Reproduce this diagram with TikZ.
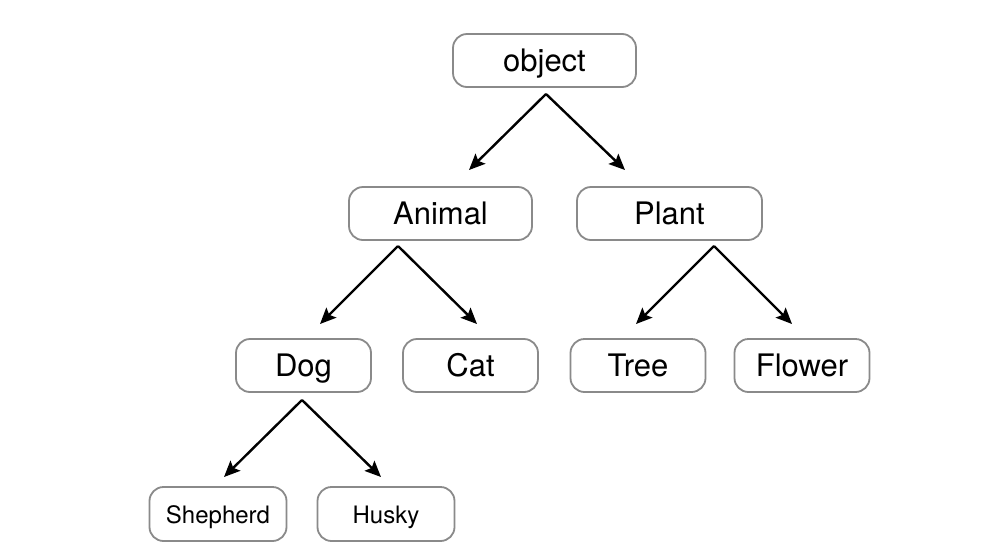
\documentclass[tikz,border=0pt]{standalone}
\usepackage{fontspec}
\setmainfont{TeX Gyre Heros}
\usetikzlibrary{arrows.meta}
\definecolor{boxgray}{HTML}{8A8A8A}
\tikzset{
  box/.style={draw=boxgray, line width=1.8pt, rounded corners=14pt, fill=white,
    minimum height=53pt, inner sep=0pt, text height=22pt, text depth=0pt,
    font=\fontsize{31}{37}\selectfont},
  bigbox/.style={box, minimum width=183pt},
  midbox/.style={box, minimum width=135pt},
  smallbox/.style={box, minimum width=137pt, minimum height=54pt, text height=19pt,
    font=\fontsize{24}{29}\selectfont},
  link/.style={line width=2.4pt, -{Stealth[length=16pt,width=14pt,inset=3pt]}}
}
\begin{document}
\begin{tikzpicture}[x=1pt,y=-1pt]
\useasboundingbox (0,0) rectangle (1001,555);
\fill[white] (0,0) rectangle (1001,555);
% nodes
\node[bigbox] (object) at (544.5,60.5) {object};
\node[bigbox] (animal) at (440.5,213.5) {Animal};
\node[bigbox, minimum width=185pt] (plant) at (669.5,213.5) {Plant};
\node[midbox] (dog) at (303.5,365.5) {Dog};
\node[midbox] (cat) at (470.5,365.5) {Cat};
\node[midbox] (tree) at (638,365.5) {Tree};
\node[midbox] (flower) at (802,365.5) {Flower};
\node[smallbox] (shepherd) at (218,514) {Shepherd};
\node[smallbox] (husky) at (386,514) {Husky};
% connector end points
\coordinate (o0) at (546,94);
\coordinate (oa) at (469,170);
\coordinate (op) at (625,170);
\coordinate (a0) at (398,246);
\coordinate (ad) at (320,324);
\coordinate (ac) at (477,324);
\coordinate (p0) at (714,246);
\coordinate (pt) at (636,324);
\coordinate (pf) at (792,324);
\coordinate (d0) at (302,400);
\coordinate (ds) at (224,477);
\coordinate (dh) at (381,477);
% connectors
\draw[link] (o0) -- (oa);
\draw[link] (o0) -- (op);
\draw[link] (a0) -- (ad);
\draw[link] (a0) -- (ac);
\draw[link] (p0) -- (pt);
\draw[link] (p0) -- (pf);
\draw[link] (d0) -- (ds);
\draw[link] (d0) -- (dh);
\end{tikzpicture}
\end{document}
